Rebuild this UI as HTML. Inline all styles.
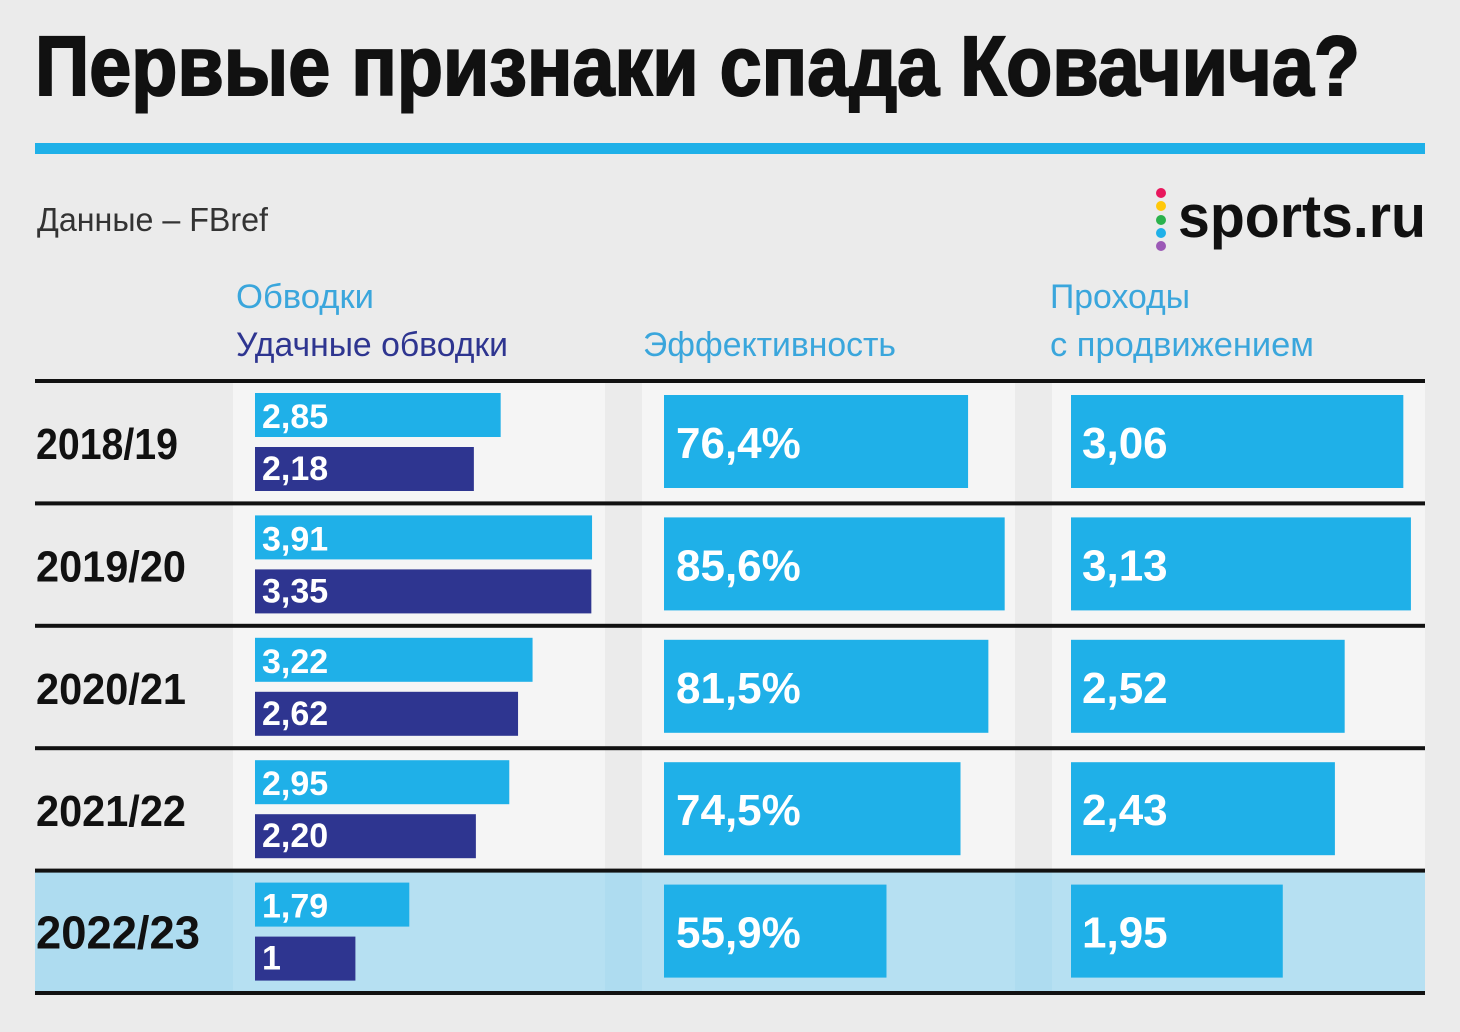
<!DOCTYPE html>
<html><head><meta charset="utf-8"><style>
html,body{margin:0;padding:0;background:#ebebeb;}
svg{display:block;font-family:"Liberation Sans","DejaVu Sans",sans-serif;}
</style></head><body>
<svg id="chart" width="1460" height="1032" viewBox="0 0 1460 1032" xmlns="http://www.w3.org/2000/svg">
<rect x="0" y="0" width="1460" height="1032" fill="#ebebeb"/>
<text x="35" y="95" font-size="84" font-weight="bold" fill="#111" stroke="#111" stroke-width="2" textLength="1325" lengthAdjust="spacingAndGlyphs">Первые признаки спада Ковачича?</text>
<rect x="35" y="143" width="1390" height="11" fill="#1fb0e8"/>
<text x="37" y="231" font-size="33" fill="#333" textLength="231" lengthAdjust="spacingAndGlyphs">Данные – FBref</text>
<g>
<circle cx="1161" cy="193" r="5" fill="#e8175d"/>
<circle cx="1161" cy="206" r="5" fill="#ffc80a"/>
<circle cx="1161" cy="220" r="5" fill="#2bb24c"/>
<circle cx="1161" cy="233" r="5" fill="#1fb0e8"/>
<circle cx="1161" cy="246" r="5" fill="#9b59b6"/>
<text x="1178" y="237" font-size="60" font-weight="bold" fill="#111" textLength="248" lengthAdjust="spacingAndGlyphs">sports.ru</text>
</g>
<text x="236" y="308" font-size="34" fill="#3aa6dc" textLength="138" lengthAdjust="spacingAndGlyphs">Обводки</text>
<text x="236" y="356" font-size="34" fill="#2e3590" textLength="272" lengthAdjust="spacingAndGlyphs">Удачные обводки</text>
<text x="643" y="356" font-size="34" fill="#3aa6dc" textLength="253" lengthAdjust="spacingAndGlyphs">Эффективность</text>
<text x="1050" y="308" font-size="34" fill="#3aa6dc" textLength="140" lengthAdjust="spacingAndGlyphs">Проходы</text>
<text x="1050" y="356" font-size="34" fill="#3aa6dc" textLength="264" lengthAdjust="spacingAndGlyphs">с продвижением</text>
<g id="rows"></g>
</svg>
<script>
const seasons = ["2018/19","2019/20","2020/21","2021/22","2022/23"];
const dribbles = [2.85,3.91,3.22,2.95,1.79];
const dribbleLabels = ["2,85","3,91","3,22","2,95","1,79"];
const successful = [2.18,3.35,2.62,2.20,1];
const successfulLabels = ["2,18","3,35","2,62","2,20","1"];
const efficiency = [76.4,85.6,81.5,74.5,55.9];
const efficiencyLabels = ["76,4%","85,6%","81,5%","74,5%","55,9%"];
const carries = [3.06,3.13,2.52,2.43,1.95];
const carriesLabels = ["3,06","3,13","2,52","2,43","1,95"];

const NS = "http://www.w3.org/2000/svg";
const g = document.getElementById('rows');
const xDrib = v => 86.2 * v;
const xSucc = v => 100.4 * v;
const xEff = v => 3.98 * v;
const xCar = v => 108.6 * v;
const rowTop = i => 382 + i * 122.4;
function mk(tag, attrs, parent, txt){
  const e = document.createElementNS(NS, tag);
  for (const k in attrs) e.setAttribute(k, attrs[k]);
  if (txt !== undefined) e.textContent = txt;
  (parent || g).appendChild(e);
  return e;
}
seasons.forEach((s, i) => {
  const y = rowTop(i);
  const last = i === seasons.length - 1;
  const row = mk('g', {});
  
  
  if (last) mk('rect', {x:35, y:y, width:1390, height:120, fill:'#aedcf0'}, row);
  const panelFill = last ? '#b6e0f2' : '#f5f5f5';
  [[233,372],[642,373],[1052,373]].forEach(p => mk('rect', {x:p[0], y:y, width:p[1], height:120, fill:panelFill}, row));
  const yl = mk('text', {x:36, y:y + 77, 'font-size': last ? 46 : 44, 'font-weight':'bold', fill:'#111', textLength: last ? 164 : (i===0?142:150), lengthAdjust:'spacingAndGlyphs'}, row, s);
  
  
  const b1 = mk('rect', {x:255, y:y + 11, width:xDrib(dribbles[i]), height:44, fill:'#1fb0e8'}, row);
  
  
  mk('text', {x:262, y:y + 46, 'font-size':34, 'font-weight':'bold', fill:'#fff'}, row, dribbleLabels[i]);
  const b2 = mk('rect', {x:255, y:y + 65, width:xSucc(successful[i]), height:44, fill:'#2e3590'}, row);
  
  
  mk('text', {x:262, y:y + 98, 'font-size':34, 'font-weight':'bold', fill:'#fff'}, row, successfulLabels[i]);
  const b3 = mk('rect', {x:664, y:y + 13, width:xEff(efficiency[i]), height:93, fill:'#1fb0e8'}, row);
  
  
  mk('text', {x:676, y:y + 76, 'font-size':44, 'font-weight':'bold', fill:'#fff'}, row, efficiencyLabels[i]);
  const b4 = mk('rect', {x:1071, y:y + 13, width:xCar(carries[i]), height:93, fill:'#1fb0e8'}, row);
  
  
  mk('text', {x:1082, y:y + 76, 'font-size':44, 'font-weight':'bold', fill:'#fff'}, row, carriesLabels[i]);
});
for (let i = 0; i <= seasons.length; i++) {
  const l = mk('rect', {x:35, y:rowTop(i) - 3, width:1390, height:4, fill:'#111'});
  
  
}
</script>
</body></html>
